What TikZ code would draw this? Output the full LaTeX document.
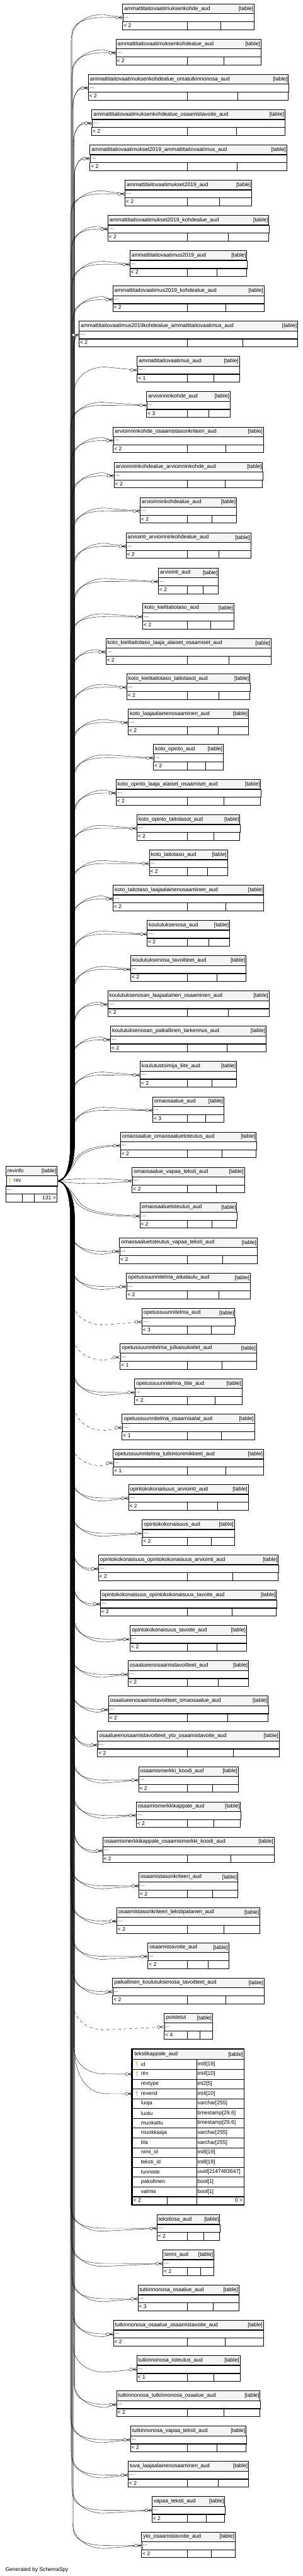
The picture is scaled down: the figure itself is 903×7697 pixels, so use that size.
\documentclass[tikz,border=0pt]{standalone}
\usepackage{fontspec}
\setmainfont{Liberation Sans}
\usepackage{tikz}
\definecolor{headgrey}{HTML}{F4F4F4}
\definecolor{keyyellow}{HTML}{D4D400}
\definecolor{keygrey}{HTML}{B0B0B0}

\tikzset{
  tabfont/.style={font=\fontsize{16}{18}\selectfont, inner sep=0pt},
  tabline/.style={line width=1pt},
  rowbox/.style={draw, tabline, fill=white, inner sep=0pt, minimum height=24pt},
  link/.style={line width=0.7pt},
  dashed link/.style={link, dash pattern=on 9pt off 8pt}
}

% link from revinfo.rev up or down the trunk to a table row
\newcommand{\revlink}[7][]{%
  \pgfmathsetmacro{\updown}{#3>3528.5 ? 1 : -1}%
  \draw[link,#1] (revrow.east) .. controls (195,3528.5) and ({#4},{3528.5+(\updown)*40})
    .. ({#4},{3528.5+(\updown)*110}) -- ({#4},{#3-(\updown)*#5})
    .. controls ({#4},{#3-(\updown)*#5*0.35}) and ({#4+#7*0.4},{#3+(\updown)*#6})
    .. ({#4+#7},{#3+(\updown)*#6}) -- (#2);
}
\newcommand{\crowfoot}[1]{%
  \draw[link] ([xshift=-12pt]#1) -- ([yshift=5pt]#1)
    ([xshift=-12pt]#1) -- ([yshift=-5pt]#1)
    ([xshift=-12pt]#1) -- (#1);
  \draw[link, fill=white] ([xshift=-16.5pt]#1) circle[radius=4.5pt];
}
\newcommand{\keyicon}[3]{%
  \fill[#3] ({#1},{#2-5}) circle[radius=3pt];
  \draw[#3, line width=1.8pt] ({#1},{#2-4}) -- ({#1},{#2+8});
}

\begin{document}
\begin{tikzpicture}[x=1pt, y=-1pt]
  \fill[white] (0,0) rectangle (903,7697);
  \useasboundingbox (0,0) rectangle (903,7697);

  % revinfo
  \filldraw[tabline, fill=headgrey] (18,3484) rectangle (170.5,3513);
  \node[tabfont, anchor=west] at (22,3498.5) {revinfo};
  \node[tabfont, anchor=east] at (168,3499) {[table]};
  \node[rowbox, minimum width=152.5, minimum height=30.5, anchor=north west] (revrow) at (18,3513) {};
  \keyicon{29.5}{3528}{keyyellow}
  \node[tabfont, anchor=west] at (41,3528.5) {rev};
  \draw[tabline] (18,3543.5) rectangle (170.5,3567.5);
  \node[tabfont, anchor=west] at (21,3555.5) {...};
  \draw[tabline] (18,3567.5) rectangle (170.5,3591.5)
    (66.8,3567.5) -- (66.8,3591.5) (101.4,3567.5) -- (101.4,3591.5);
  \node[tabfont, anchor=east] at (167,3579.5) {131 >};

  \foreach \i/\nm/\w/\n/\k in {
    1/ammattitaitovaatimuksenkohde\_aud/392/2/2,
    2/ammattitaitovaatimuksenkohdealue\_aud/432/2/2,
    3/ammattitaitovaatimuksenkohdealue\_omatutkinnonosa\_aud/597/2/2,
    4/ammattitaitovaatimuksenkohdealue\_osaamistavoite\_aud/576/2/2,
    5/ammattitaitovaatimukset2019\_ammattitaitovaatimus\_aud/587/2/2,
    6/ammattitaitovaatimukset2019\_aud/378/2/2,
    7/ammattitaitovaatimukset2019\_kohdealue\_aud/480/2/2,
    8/ammattitaitovaatimus2019\_aud/349/2/2,
    9/ammattitaitovaatimus2019\_kohdealue\_aud/451/2/2,
    10/ammattitaitovaatimus2019kohdealue\_ammattitaitovaatimus\_aud/652/2/2,
    11/ammattitaitovaatimus\_aud/305/1/1,
    12/arvioinninkohde\_aud/249/3/2,
    13/arvioinninkohde\_osaamistasonkriteeri\_aud/448/2/2,
    14/arvioinninkohdealue\_arvioinninkohde\_aud/443/2/2,
    15/arvioinninkohdealue\_aud/288/2/2,
    16/arviointi\_arvioinninkohdealue\_aud/372/2/2,
    17/arviointi\_aud/179/2/2,
    18/koto\_kielitaitotaso\_aud/272/2/2,
    19/koto\_kielitaitotaso\_laaja\_alaiset\_osaamiset\_aud/492/2/2,
    20/koto\_kielitaitotaso\_taitotasot\_aud/367/2/2,
    21/koto\_laajaalainenosaaminen\_aud/359/2/2,
    22/koto\_opinto\_aud/208/2/2,
    23/koto\_opinto\_laaja\_alaiset\_osaamiset\_aud/431/2/2,
    24/koto\_opinto\_taitotasot\_aud/307/2/2,
    25/koto\_taitotaso\_aud/233/2/2,
    26/koto\_taitotaso\_laajaalainenosaaminen\_aud/449/2/2,
    27/koulutuksenosa\_aud/246/2/2,
    28/koulutuksenosa\_tavoitteet\_aud/344/2/2,
    29/koulutuksenosan\_laajaalainen\_osaaminen\_aud/481/2/2,
    30/koulutuksenosan\_paikallinen\_tarkennus\_aud/464/2/2,
    31/koulutustoimija\_liite\_aud/288/2/2,
    32/omaosaalue\_aud/212/3/2,
    33/omaosaalue\_omaosaaluetoteutus\_aud/405/2/n,
    34/omaosaalue\_vapaa\_teksti\_aud/335/2/n,
    35/omaosaaluetoteutus\_aud/289/2/n,
    36/omaosaaluetoteutus\_vapaa\_teksti\_aud/411/2/2,
    37/opetussuunnitelma\_aikataulu\_aud/369/2/2,
    38/opetussuunnitelma\_aud/277/3/d,
    39/opetussuunnitelma\_julkaisukielet\_aud/407/1/d,
    40/opetussuunnitelma\_liite\_aud/320/2/2,
    41/opetussuunnitelma\_osaamisalat\_aud/395/1/d,
    42/opetussuunnitelma\_tutkintonimikkeet\_aud/448/1/d,
    43/opintokokonaisuus\_arviointi\_aud/357/2/2,
    44/opintokokonaisuus\_aud/275/2/2,
    45/opintokokonaisuus\_opintokokonaisuus\_arviointi\_aud/537/2/2,
    46/opintokokonaisuus\_opintokokonaisuus\_tavoite\_aud/525/2/2,
    47/opintokokonaisuus\_tavoite\_aud/347/2/2,
    48/osaalueenosaamistavoitteet\_aud/359/2/2,
    49/osaalueenosaamistavoitteet\_omaosaalue\_aud/476/2/2,
    50/osaalueenosaamistavoitteet\_yto\_osaamistavoite\_aud/542/2/2,
    51/osaamismerkki\_koodi\_aud/297/2/2,
    52/osaamismerkkikappale\_aud/311/2/2,
    53/osaamismerkkikappale\_osaamismerkki\_koodi\_aud/511/2/2,
    54/osaamistasonkriteeri\_aud/295/2/2,
    55/osaamistasonkriteeri\_tekstipalanen\_aud/427/2/2,
    56/osaamistavoite\_aud/241/2/2,
    57/paikallinen\_koulutuksenosa\_tavoitteet\_aud/452/2/2,
    58/poistetut/144/4/d,
    60/tekstiosa\_aud/187/2/2,
    61/termi\_aud/152/2/2,
    62/tutkinnonosa\_osaalue\_aud/301/3/2,
    63/tutkinnonosa\_osaalue\_osaamistavoite\_aud/447/2/2,
    64/tutkinnonosa\_toteutus\_aud/308/1/1,
    65/tutkinnonosa\_tutkinnonosa\_osaalue\_aud/428/2/2,
    66/tutkinnonosa\_vapaa\_teksti\_aud/345/2/2,
    67/tuva\_laajaalainenosaaminen\_aud/359/2/2,
    68/vapaa\_teksti\_aud/217/2/2,
    69/yto\_osaamistavoite\_aud/279/2/2}{
    \pgfmathsetmacro{\toptab}{\i<60 ? 11.6+(\i-1)*105.33 : 6617+(\i-60)*105.33}
    \pgfmathsetmacro{\rowy}{\toptab+40.6}
    \pgfmathsetmacro{\leftx}{561.6-\w/2}
    \pgfmathsetmacro{\rightx}{561.6+\w/2}
    \pgfmathsetmacro{\trunka}{210+mod(\i,6)*2}
    \pgfmathsetmacro{\trunkb}{\trunka+2.5}
    \pgfmathsetmacro{\reach}{min(95,(\leftx-\trunka)*0.75)}
    \pgfmathsetmacro{\bump}{9*\reach/95}
    \filldraw[tabline, fill=headgrey] (\leftx,\toptab) rectangle ({\rightx},{\toptab+28.6});
    \node[tabfont, anchor=west] at ({\leftx+5},{\toptab+14.3}) {\nm};
    \node[tabfont, anchor=east] at ({\rightx-2},{\toptab+14.8}) {[table]};
    \node[rowbox, minimum width=\w, anchor=north west] (t\i) at ({\leftx},{\toptab+28.6}) {};
    \node[tabfont, anchor=west] at ({\leftx+4},{\rowy}) {...};
    \draw[tabline] ({\leftx},{\toptab+52.6}) rectangle ({\rightx},{\toptab+76.6})
      (559.2,{\toptab+52.6}) -- ++(0,24) ({(559.2+\rightx)/2},{\toptab+52.6}) -- ++(0,24);
    \node[tabfont, anchor=west] at ({\leftx+3},{\toptab+64.6}) {< \n};
    \if\k n\else
      \if\k d
        \revlink[dashed link]{t\i.west}{\rowy}{\trunka}{72}{\bump}{\reach}
      \else
        \revlink{t\i.west}{\rowy}{\trunka}{72}{\bump}{\reach}
        \if\k 2\revlink{t\i.west}{\rowy}{\trunkb}{50}{0}{\reach}\fi
      \fi
      \crowfoot{t\i.west}
    \fi
  }

  % tables next to revinfo
  \draw[link] (revrow.east) .. controls (200,3520) and (215,3480) .. (225,3462)
    .. controls (250,3430) and (300,3420) .. (t33.west);
  \draw[link] (revrow.east) .. controls (205,3515) and (222,3475) .. (235,3458)
    .. controls (262,3432) and (310,3426) .. (t33.west);
  \draw[link] (revrow.east) .. controls (230,3518) and (330,3520) .. (t34.west);
  \draw[link] (revrow.east) .. controls (230,3540) and (330,3537) .. (t34.west);
  \draw[link] (revrow.east) .. controls (200,3537) and (215,3570) .. (225,3590)
    .. controls (250,3625) and (320,3636) .. (t35.west);
  \draw[link] (revrow.east) .. controls (205,3540) and (222,3575) .. (240,3596)
    .. controls (270,3625) and (330,3628) .. (t35.west);
  \crowfoot{t33.west}
  \crowfoot{t34.west}
  \crowfoot{t35.west}

  % tekstikappale_aud
  \draw[line width=3.2pt] (393.2,6121.5) rectangle (728.3,6588.5);
  \filldraw[tabline, fill=headgrey] (394.6,6123.6) rectangle (727,6152.9);
  \node[tabfont, anchor=west] at (401,6138.3) {tekstikappale\_aud};
  \node[tabfont, anchor=east] at (725,6138.8) {[table]};
  \foreach \r/\cn/\ct in {1/id/int8[19], 2/rev/int4[10], 3/revtype/int2[5],
      4/revend/int4[10], 5/luoja/varchar[255], 6/luotu/{timestamp[29,6]},
      7/muokattu/{timestamp[29,6]}, 8/muokkaaja/varchar[255], 9/tila/varchar[255],
      10/nimi\_id/int8[19], 11/teksti\_id/int8[19], 12/tunniste/uuid[2147483647],
      13/pakollinen/bool[1], 14/valmis/bool[1]}{
    \pgfmathsetmacro{\toptab}{6152.9+(\r-1)*29.3}
    \node[rowbox, minimum width=332.4, minimum height=29.3, anchor=north west] (tkrow\r) at (394.6,\toptab) {};
    \draw[tabline] (586.4,\toptab) -- ++(0,29.3);
    \node[tabfont, anchor=west] at (420.5,{\toptab+14.65}) {\cn};
    \node[tabfont, anchor=west] at (589,{\toptab+14.65}) {\ct};
  }
  \keyicon{407.8}{6167.5}{keyyellow}
  \keyicon{407.8}{6196.8}{keyyellow}
  \keyicon{407.8}{6255.4}{keygrey}
  \draw[tabline] (394.6,6563) rectangle (727,6586.5)
    (498.3,6563) -- (498.3,6586.5) (586.4,6563) -- (586.4,6586.5);
  \node[tabfont, anchor=west] at (398,6574.7) {< 2};
  \node[tabfont, anchor=east] at (724,6574.7) {0 >};
  \revlink{tkrow2.west}{6196.8}{219}{90}{0}{95}
  \revlink{tkrow4.west}{6255.4}{221}{150}{0}{95}
  \crowfoot{tkrow2.west}
  \crowfoot{tkrow4.west}

  \node[tabfont, anchor=west] at (16,7678) {Generated by SchemaSpy};
\end{tikzpicture}
\end{document}
